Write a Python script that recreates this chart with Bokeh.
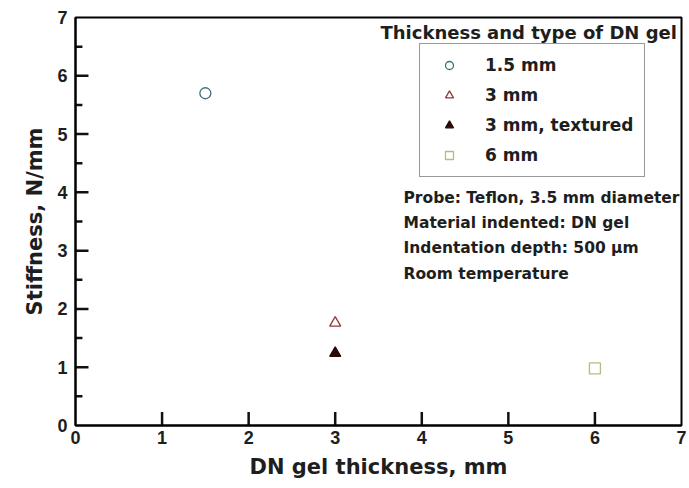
from bokeh.plotting import figure
from bokeh.models import Legend, LegendItem, Label, Range1d, FixedTicker, ColumnDataSource
from bokeh.embed import file_html
from bokeh.resources import INLINE

# data
series_names = ["1.5 mm", "3 mm", "3 mm, textured", "6 mm"]
thickness = [1.5, 3.0, 3.0, 6.0]
stiffness = [5.7, 1.76, 1.24, 0.98]
markers = ["circle", "triangle", "triangle", "square"]
line_colors = ["#3f6f78", "#8a3b3b", "#2a0808", "#b9bb7a"]
fill_colors = [None, None, "#2a0808", None]
x_ticks = [0, 1, 2, 3, 4, 5, 6, 7]
y_ticks = [0, 1, 2, 3, 4, 5, 6, 7]
y_minor = [0.5, 1.5, 2.5, 3.5, 4.5, 5.5, 6.5]
notes = ["Probe: Teflon, 3.5 mm diameter",
         "Material indented: DN gel",
         "Indentation depth: 500 \u00b5m",
         "Room  temperature"]
legend_title = "Thickness and type of DN gel"

FONT = "Liberation Sans"
WFONT = "DejaVu Sans"
TXT = "#1e1e1e"

p = figure(width=688, height=482, output_backend="svg", toolbar_location=None,
           x_range=Range1d(0, 7), y_range=Range1d(0, 7),
           min_border_left=75, min_border_right=7, min_border_top=17, min_border_bottom=57)
p.grid.visible = False
p.outline_line_color = "black"
p.outline_line_width = 2
p.background_fill_color = "white"

for ax in (p.xaxis[0], p.yaxis[0]):
    ax.axis_line_width = 2
    ax.major_tick_in = 0
    ax.major_tick_out = 0
    ax.minor_tick_in = 0
    ax.minor_tick_out = 0
    ax.major_label_text_font = FONT
    ax.major_label_text_font_style = "bold"
    ax.major_label_text_font_size = "18px"
    ax.major_label_text_color = TXT
    ax.axis_label_text_font = WFONT
    ax.axis_label_text_font_style = "bold"
    ax.axis_label_text_font_size = "21px"
    ax.axis_label_text_color = TXT

p.xaxis.ticker = FixedTicker(ticks=x_ticks)
p.yaxis.ticker = FixedTicker(ticks=y_ticks)
p.xaxis.major_label_standoff = 5
p.yaxis.major_label_standoff = 8
p.xaxis.axis_label = "DN gel thickness, mm"
p.yaxis.axis_label = "Stiffness, N/mm"
p.xaxis.axis_label_standoff = 8
p.yaxis.axis_label_standoff = 7

# inward tick marks, drawn at the tick values
xt = x_ticks[1:-1]
src_x = ColumnDataSource(dict(x0=xt, y0=[0.0] * len(xt), x1=xt, y1=[0.23] * len(xt)))
p.segment(x0="x0", y0="y0", x1="x1", y1="y1", source=src_x, line_color="#111111", line_width=2.5)
yt = y_ticks[1:-1]
src_y = ColumnDataSource(dict(x0=[0.0] * len(yt), y0=yt, x1=[0.15] * len(yt), y1=yt))
p.segment(x0="x0", y0="y0", x1="x1", y1="y1", source=src_y, line_color="#111111", line_width=2.5)
src_m = ColumnDataSource(dict(x0=[0.0] * len(y_minor), y0=y_minor, x1=[0.08] * len(y_minor), y1=y_minor))
p.segment(x0="x0", y0="y0", x1="x1", y1="y1", source=src_m, line_color="#111111", line_width=2.5)

items = []
for i in range(4):
    r = p.scatter([thickness[i]], [stiffness[i]], marker=markers[i], size=11,
                  line_color=line_colors[i], line_width=1.3,
                  fill_color=fill_colors[i], fill_alpha=1.0 if fill_colors[i] else 0)
    items.append(LegendItem(label=series_names[i], renderers=[r]))

legend = Legend(items=items, location=(344, 248),
                border_line_color="#333333", border_line_width=1.5,
                background_fill_alpha=1.0,
                label_text_font=WFONT, label_text_font_style="bold",
                label_text_font_size="17px", label_text_color=TXT,
                glyph_width=36, glyph_height=20, label_height=20,
                label_standoff=18, spacing=10, padding=11, margin=0)
p.add_layout(legend, "center")

p.add_layout(Label(x=305, y=393, x_units="screen", y_units="screen", text=legend_title,
                   text_font=WFONT, text_font_style="bold", text_font_size="18px",
                   text_color=TXT, text_baseline="middle"))

note_y = [228, 203, 178, 152]
for t, yy in zip(notes, note_y):
    p.add_layout(Label(x=328, y=yy, x_units="screen", y_units="screen", text=t,
                       text_font=WFONT, text_font_style="bold", text_font_size="15.5px",
                       text_color=TXT, text_baseline="middle",
                       background_fill_color="white" if yy == 228 else None))

open("out.html", "w").write(file_html(p, INLINE))
